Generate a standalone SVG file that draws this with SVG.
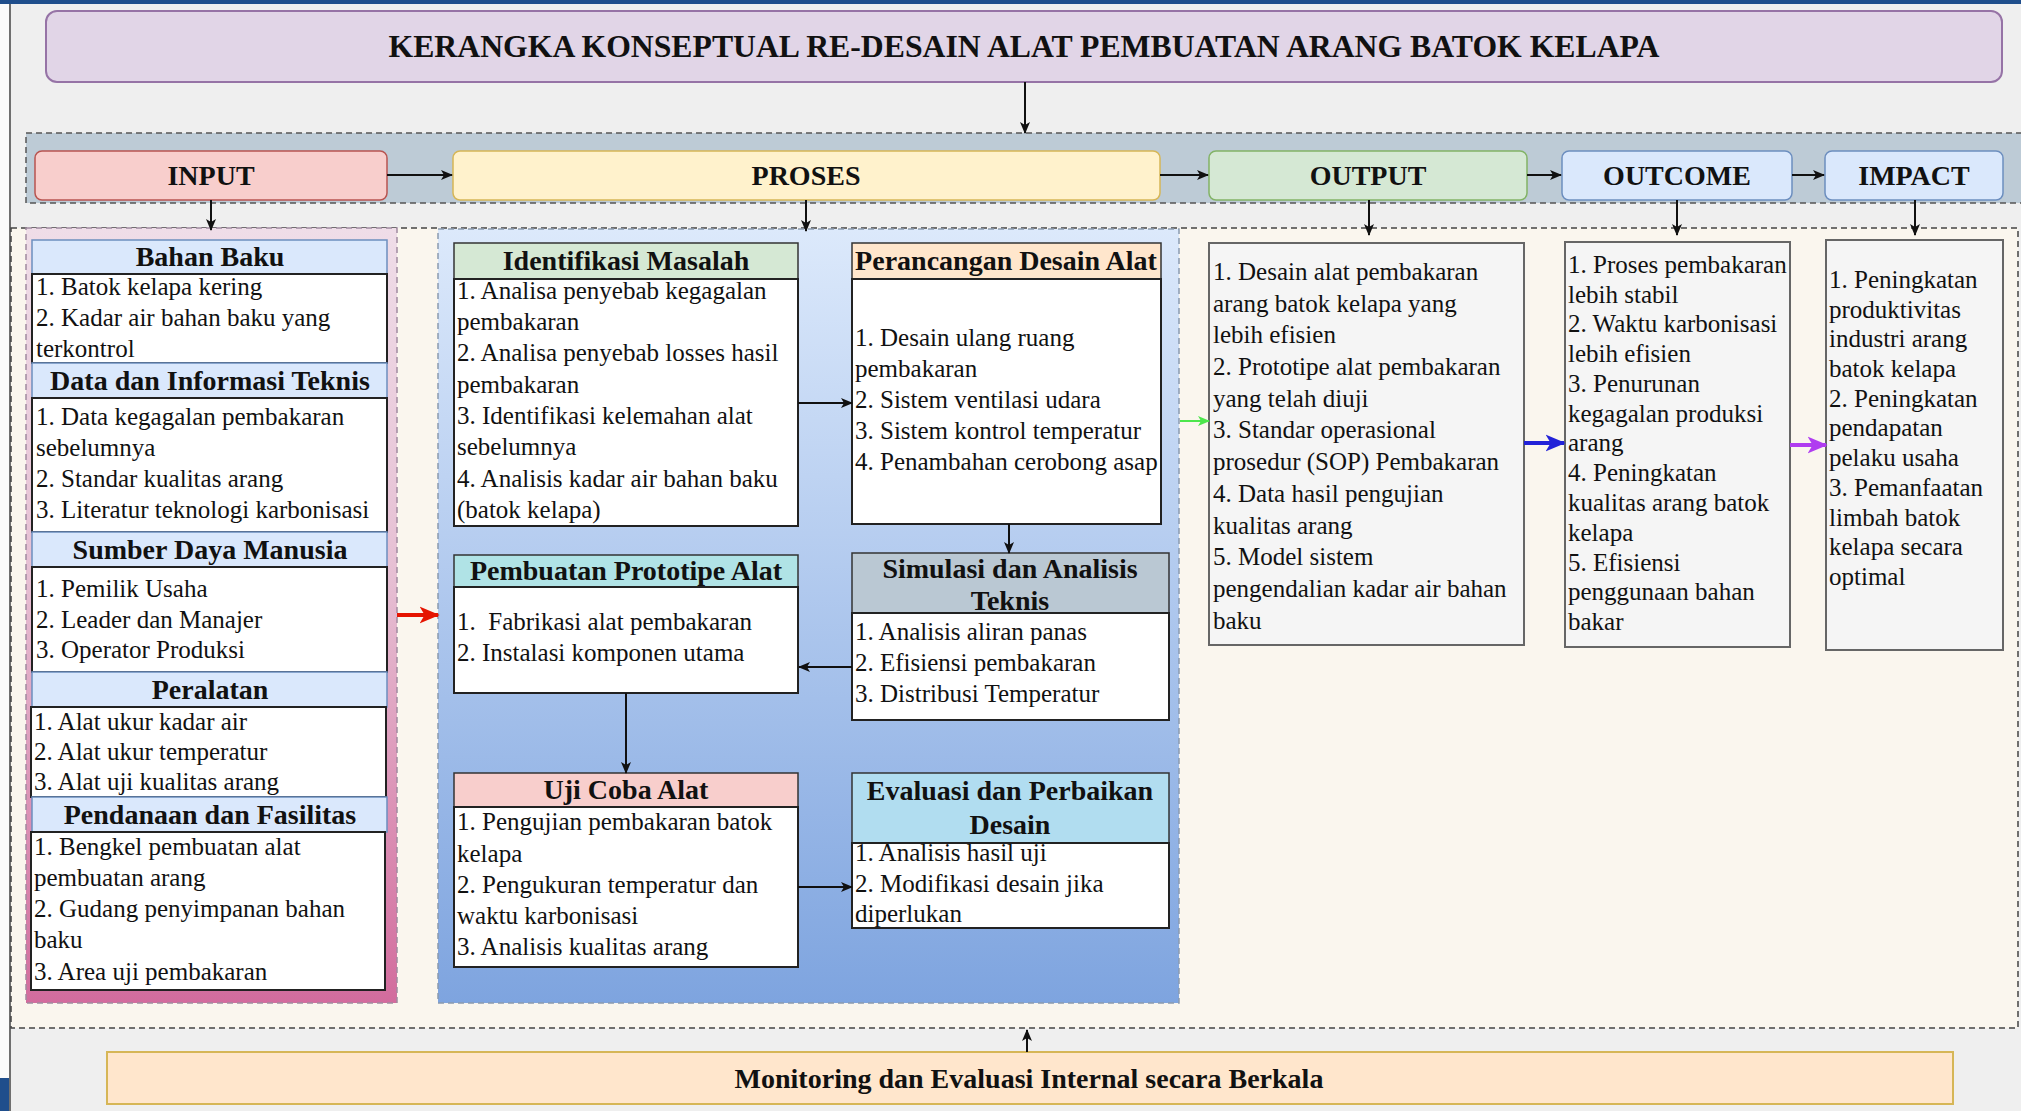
<svg xmlns="http://www.w3.org/2000/svg" width="2021" height="1111" viewBox="0 0 2021 1111">
<style>
.hdr{font-family:"Liberation Serif","Times New Roman",serif;font-weight:bold;font-size:28px;text-anchor:middle;fill:#111}
.ttl{font-family:"Liberation Serif","Times New Roman",serif;font-weight:bold;font-size:32px;text-anchor:middle;fill:#111}
.bd{font-family:"Liberation Serif","Times New Roman",serif;font-size:25px;fill:#111}
.wb{fill:#fff;stroke:#222;stroke-width:2}
.gb{fill:#f5f5f5;stroke:#666;stroke-width:2}
.sh{fill:#dae8fc;stroke:#6c8ebf;stroke-width:1.5}
.ph{stroke:#333;stroke-width:1.5}
.dash{stroke-dasharray:6 4;stroke-width:1.5}
.cn{fill:none;stroke:#111;stroke-width:2}
</style>
<defs>
<linearGradient id="gPink" x1="0" y1="0" x2="0" y2="1">
<stop offset="0" stop-color="#efdde8"/><stop offset="0.45" stop-color="#e6bfd3"/><stop offset="1" stop-color="#d26c9d"/>
</linearGradient>
<linearGradient id="gBlue" x1="0" y1="0" x2="0" y2="1">
<stop offset="0" stop-color="#dce9fb"/><stop offset="1" stop-color="#7ea4df"/>
</linearGradient>
<marker id="ab" viewBox="0 0 12 10" refX="11" refY="5" markerWidth="12" markerHeight="10" markerUnits="userSpaceOnUse" orient="auto"><path d="M0,0 L12,5 L0,10 L3,5 z" fill="#111"/></marker>
<marker id="ar" viewBox="0 0 12 10" refX="11" refY="5" markerWidth="20" markerHeight="18" markerUnits="userSpaceOnUse" orient="auto"><path d="M0,0 L12,5 L0,10 L3,5 z" fill="#e51400"/></marker>
<marker id="ag" viewBox="0 0 12 10" refX="11" refY="5" markerWidth="12" markerHeight="11" markerUnits="userSpaceOnUse" orient="auto"><path d="M0,0 L12,5 L0,10 L3,5 z" fill="#4ce64c"/></marker>
<marker id="abl" viewBox="0 0 12 10" refX="11" refY="5" markerWidth="20" markerHeight="20" markerUnits="userSpaceOnUse" orient="auto"><path d="M0,0 L12,5 L0,10 L3,5 z" fill="#2222d8"/></marker>
<marker id="apu" viewBox="0 0 12 10" refX="11" refY="5" markerWidth="20" markerHeight="20" markerUnits="userSpaceOnUse" orient="auto"><path d="M0,0 L12,5 L0,10 L3,5 z" fill="#b03cf0"/></marker>
</defs>

<!-- background / frame -->
<rect x="0" y="0" width="2021" height="1111" fill="#efefef"/>
<rect x="0" y="0" width="9" height="1111" fill="#fbfbfb"/>
<line x1="10" y1="4" x2="10" y2="1111" stroke="#444" stroke-width="1.5"/>
<rect x="0" y="0" width="2021" height="4" fill="#1f4e8c"/>
<rect x="0" y="1078" width="9" height="33" fill="#1f4e8c"/>

<!-- containers -->
<rect x="26" y="133" width="2000" height="70" fill="#bdcbd6" stroke="#555" class="dash"/>
<rect x="11" y="228" width="2007" height="800" fill="#faf6ee" stroke="#444" class="dash"/>
<rect x="26" y="228" width="371" height="775" fill="url(#gPink)" stroke="#a08aa0" class="dash"/>
<rect x="438" y="229" width="741" height="774" fill="url(#gBlue)" stroke="#8a9ab0" class="dash"/>

<!-- title -->
<g id="title">
<rect x="46" y="11" width="1956" height="71" rx="11" fill="#e1d5e7" stroke="#9673a6" stroke-width="2"/>
<text class="ttl" x="1024" y="57" textLength="1271" lengthAdjust="spacingAndGlyphs">KERANGKA KONSEPTUAL RE-DESAIN ALAT PEMBUATAN ARANG BATOK KELAPA</text>
</g>

<!-- phase headers -->
<g id="input-head"><rect x="35" y="151" width="352" height="49" rx="7" fill="#f8cecc" stroke="#b85450" stroke-width="1.5"/><text class="hdr" x="211" y="185">INPUT</text></g>
<g id="proses-head"><rect x="453" y="151" width="707" height="49" rx="7" fill="#fff2cc" stroke="#d6b656" stroke-width="1.5"/><text class="hdr" x="806" y="185">PROSES</text></g>
<g id="output-head"><rect x="1209" y="151" width="318" height="49" rx="7" fill="#d5e8d4" stroke="#82b366" stroke-width="1.5"/><text class="hdr" x="1368" y="185">OUTPUT</text></g>
<g id="outcome-head"><rect x="1562" y="151" width="230" height="49" rx="7" fill="#dae8fc" stroke="#6c8ebf" stroke-width="1.5"/><text class="hdr" x="1677" y="185">OUTCOME</text></g>
<g id="impact-head"><rect x="1825" y="151" width="178" height="49" rx="7" fill="#dae8fc" stroke="#6c8ebf" stroke-width="1.5"/><text class="hdr" x="1914" y="185">IMPACT</text></g>

<!-- INPUT items -->
<g id="bahan-baku">
<rect class="sh" x="32" y="240" width="355" height="34"/><text class="hdr" x="210" y="266">Bahan Baku</text>
<rect class="wb" x="32" y="274" width="355" height="89"/>
<text class="bd" x="36" y="295">1. Batok kelapa kering</text>
<text class="bd" x="36" y="326">2. Kadar air bahan baku yang</text>
<text class="bd" x="36" y="357">terkontrol</text>
</g>
<g id="data-info">
<rect class="sh" x="32" y="363" width="355" height="35"/><text class="hdr" x="210" y="390">Data dan Informasi Teknis</text>
<rect class="wb" x="32" y="398" width="355" height="134"/>
<text class="bd" x="36" y="425">1. Data kegagalan pembakaran</text>
<text class="bd" x="36" y="456">sebelumnya</text>
<text class="bd" x="36" y="487">2. Standar kualitas arang</text>
<text class="bd" x="36" y="518">3. Literatur teknologi karbonisasi</text>
</g>
<g id="sdm">
<rect class="sh" x="32" y="532" width="355" height="35"/><text class="hdr" x="210" y="559">Sumber Daya Manusia</text>
<rect class="wb" x="32" y="567" width="355" height="105"/>
<text class="bd" x="36" y="597">1. Pemilik Usaha</text>
<text class="bd" x="36" y="628">2. Leader dan Manajer</text>
<text class="bd" x="36" y="658">3. Operator Produksi</text>
</g>
<g id="peralatan">
<rect class="sh" x="32" y="672" width="355" height="35"/><text class="hdr" x="210" y="699">Peralatan</text>
<rect class="wb" x="31" y="707" width="355" height="90"/>
<text class="bd" x="34" y="730">1. Alat ukur kadar air</text>
<text class="bd" x="34" y="760">2. Alat ukur temperatur</text>
<text class="bd" x="34" y="790">3. Alat uji kualitas arang</text>
</g>
<g id="pendanaan">
<rect class="sh" x="32" y="797" width="355" height="35"/><text class="hdr" x="210" y="824">Pendanaan dan Fasilitas</text>
<rect class="wb" x="31" y="832" width="354" height="158"/>
<text class="bd" x="34" y="855">1. Bengkel pembuatan alat</text>
<text class="bd" x="34" y="886">pembuatan arang</text>
<text class="bd" x="34" y="917">2. Gudang penyimpanan bahan</text>
<text class="bd" x="34" y="948">baku</text>
<text class="bd" x="34" y="980">3. Area uji pembakaran</text>
</g>

<!-- PROSES items -->
<g id="identifikasi">
<rect class="ph" x="454" y="243" width="344" height="36" fill="#d5e8d4"/><text class="hdr" x="626" y="270">Identifikasi Masalah</text>
<rect class="wb" x="454" y="279" width="344" height="247"/>
<text class="bd" x="457" y="299">1. Analisa penyebab kegagalan</text>
<text class="bd" x="457" y="330">pembakaran</text>
<text class="bd" x="457" y="361">2. Analisa penyebab losses hasil</text>
<text class="bd" x="457" y="393">pembakaran</text>
<text class="bd" x="457" y="424">3. Identifikasi kelemahan alat</text>
<text class="bd" x="457" y="455">sebelumnya</text>
<text class="bd" x="457" y="487">4. Analisis kadar air bahan baku</text>
<text class="bd" x="457" y="518">(batok kelapa)</text>
</g>
<g id="perancangan">
<rect class="ph" x="852" y="243" width="309" height="36" fill="#ffe6cc"/><text class="hdr" x="1006" y="270">Perancangan Desain Alat</text>
<rect class="wb" x="852" y="279" width="309" height="245"/>
<text class="bd" x="855" y="346">1. Desain ulang ruang</text>
<text class="bd" x="855" y="377">pembakaran</text>
<text class="bd" x="855" y="408">2. Sistem ventilasi udara</text>
<text class="bd" x="855" y="439">3. Sistem kontrol temperatur</text>
<text class="bd" x="855" y="470">4. Penambahan cerobong asap</text>
</g>
<g id="simulasi">
<rect class="ph" x="852" y="553" width="317" height="60" fill="#bac8d3"/>
<text class="hdr" x="1010" y="578">Simulasi dan Analisis</text>
<text class="hdr" x="1010" y="610">Teknis</text>
<rect class="wb" x="852" y="613" width="317" height="107"/>
<text class="bd" x="855" y="640">1. Analisis aliran panas</text>
<text class="bd" x="855" y="671">2. Efisiensi pembakaran</text>
<text class="bd" x="855" y="702">3. Distribusi Temperatur</text>
</g>
<g id="prototipe">
<rect class="ph" x="454" y="555" width="344" height="32" fill="#b0e3e6"/><text class="hdr" x="626" y="580">Pembuatan Prototipe Alat</text>
<rect class="wb" x="454" y="587" width="344" height="106"/>
<text class="bd" x="457" y="630">1.&#160; Fabrikasi alat pembakaran</text>
<text class="bd" x="457" y="661">2. Instalasi komponen utama</text>
</g>
<g id="uji-coba">
<rect class="ph" x="454" y="773" width="344" height="34" fill="#f8cecc"/><text class="hdr" x="626" y="799">Uji Coba Alat</text>
<rect class="wb" x="454" y="807" width="344" height="160"/>
<text class="bd" x="457" y="830">1. Pengujian pembakaran batok</text>
<text class="bd" x="457" y="862">kelapa</text>
<text class="bd" x="457" y="893">2. Pengukuran temperatur dan</text>
<text class="bd" x="457" y="924">waktu karbonisasi</text>
<text class="bd" x="457" y="955">3. Analisis kualitas arang</text>
</g>
<g id="evaluasi">
<rect class="ph" x="852" y="773" width="317" height="70" fill="#b1ddf0"/>
<text class="hdr" x="1010" y="800">Evaluasi dan Perbaikan</text>
<text class="hdr" x="1010" y="834">Desain</text>
<rect class="wb" x="852" y="843" width="317" height="85"/>
<text class="bd" x="855" y="861">1. Analisis hasil uji</text>
<text class="bd" x="855" y="892">2. Modifikasi desain jika</text>
<text class="bd" x="855" y="922">diperlukan</text>
</g>

<!-- OUTPUT / OUTCOME / IMPACT -->
<g id="output-box">
<rect class="gb" x="1209" y="243" width="315" height="402"/>
<text class="bd" x="1213" y="280">1. Desain alat pembakaran</text>
<text class="bd" x="1213" y="312">arang batok kelapa yang</text>
<text class="bd" x="1213" y="343">lebih efisien</text>
<text class="bd" x="1213" y="375">2. Prototipe alat pembakaran</text>
<text class="bd" x="1213" y="407">yang telah diuji</text>
<text class="bd" x="1213" y="438">3. Standar operasional</text>
<text class="bd" x="1213" y="470">prosedur (SOP) Pembakaran</text>
<text class="bd" x="1213" y="502">4. Data hasil pengujian</text>
<text class="bd" x="1213" y="534">kualitas arang</text>
<text class="bd" x="1213" y="565">5. Model sistem</text>
<text class="bd" x="1213" y="597">pengendalian kadar air bahan</text>
<text class="bd" x="1213" y="629">baku</text>
</g>
<g id="outcome-box">
<rect class="gb" x="1565" y="242" width="225" height="405"/>
<text class="bd" x="1568" y="273">1. Proses pembakaran</text>
<text class="bd" x="1568" y="303">lebih stabil</text>
<text class="bd" x="1568" y="332">2. Waktu karbonisasi</text>
<text class="bd" x="1568" y="362">lebih efisien</text>
<text class="bd" x="1568" y="392">3. Penurunan</text>
<text class="bd" x="1568" y="422">kegagalan produksi</text>
<text class="bd" x="1568" y="451">arang</text>
<text class="bd" x="1568" y="481">4. Peningkatan</text>
<text class="bd" x="1568" y="511">kualitas arang batok</text>
<text class="bd" x="1568" y="541">kelapa</text>
<text class="bd" x="1568" y="571">5. Efisiensi</text>
<text class="bd" x="1568" y="600">penggunaan bahan</text>
<text class="bd" x="1568" y="630">bakar</text>
</g>
<g id="impact-box">
<rect class="gb" x="1826" y="240" width="177" height="410"/>
<text class="bd" x="1829" y="288">1. Peningkatan</text>
<text class="bd" x="1829" y="318">produktivitas</text>
<text class="bd" x="1829" y="347">industri arang</text>
<text class="bd" x="1829" y="377">batok kelapa</text>
<text class="bd" x="1829" y="407">2. Peningkatan</text>
<text class="bd" x="1829" y="436">pendapatan</text>
<text class="bd" x="1829" y="466">pelaku usaha</text>
<text class="bd" x="1829" y="496">3. Pemanfaatan</text>
<text class="bd" x="1829" y="526">limbah batok</text>
<text class="bd" x="1829" y="555">kelapa secara</text>
<text class="bd" x="1829" y="585">optimal</text>
</g>

<!-- monitoring -->
<g id="monitoring">
<rect x="107" y="1052" width="1846" height="52" fill="#ffe6cc" stroke="#d6b656" stroke-width="2"/>
<text class="hdr" x="1029" y="1088">Monitoring dan Evaluasi Internal secara Berkala</text>
</g>

<!-- connectors -->
<g id="connectors">
<line class="cn" x1="1025" y1="82" x2="1025" y2="133" marker-end="url(#ab)"/>
<line class="cn" x1="387" y1="175" x2="452" y2="175" marker-end="url(#ab)"/>
<line class="cn" x1="1160" y1="175" x2="1208" y2="175" marker-end="url(#ab)"/>
<line class="cn" x1="1527" y1="175" x2="1561" y2="175" marker-end="url(#ab)"/>
<line class="cn" x1="1792" y1="175" x2="1824" y2="175" marker-end="url(#ab)"/>
<line class="cn" x1="211" y1="200" x2="211" y2="230" marker-end="url(#ab)"/>
<line class="cn" x1="806" y1="200" x2="806" y2="231" marker-end="url(#ab)"/>
<line class="cn" x1="1369" y1="200" x2="1369" y2="235" marker-end="url(#ab)"/>
<line class="cn" x1="1677" y1="200" x2="1677" y2="235" marker-end="url(#ab)"/>
<line class="cn" x1="1915" y1="200" x2="1915" y2="235" marker-end="url(#ab)"/>
<line class="cn" x1="798" y1="403" x2="852" y2="403" marker-end="url(#ab)"/>
<line class="cn" x1="1009" y1="524" x2="1009" y2="553" marker-end="url(#ab)"/>
<line class="cn" x1="852" y1="667" x2="799" y2="667" marker-end="url(#ab)"/>
<line class="cn" x1="626" y1="693" x2="626" y2="773" marker-end="url(#ab)"/>
<line class="cn" x1="798" y1="887" x2="852" y2="887" marker-end="url(#ab)"/>
<line class="cn" x1="1027" y1="1052" x2="1027" y2="1030" marker-end="url(#ab)"/>
<line x1="397" y1="615" x2="438" y2="615" stroke="#e51400" stroke-width="4" marker-end="url(#ar)"/>
<line x1="1180" y1="421" x2="1209" y2="421" stroke="#4ce64c" stroke-width="2" marker-end="url(#ag)"/>
<line x1="1524" y1="443" x2="1564" y2="443" stroke="#2222d8" stroke-width="4" marker-end="url(#abl)"/>
<line x1="1790" y1="445" x2="1826" y2="445" stroke="#b03cf0" stroke-width="4" marker-end="url(#apu)"/>
</g>
</svg>
